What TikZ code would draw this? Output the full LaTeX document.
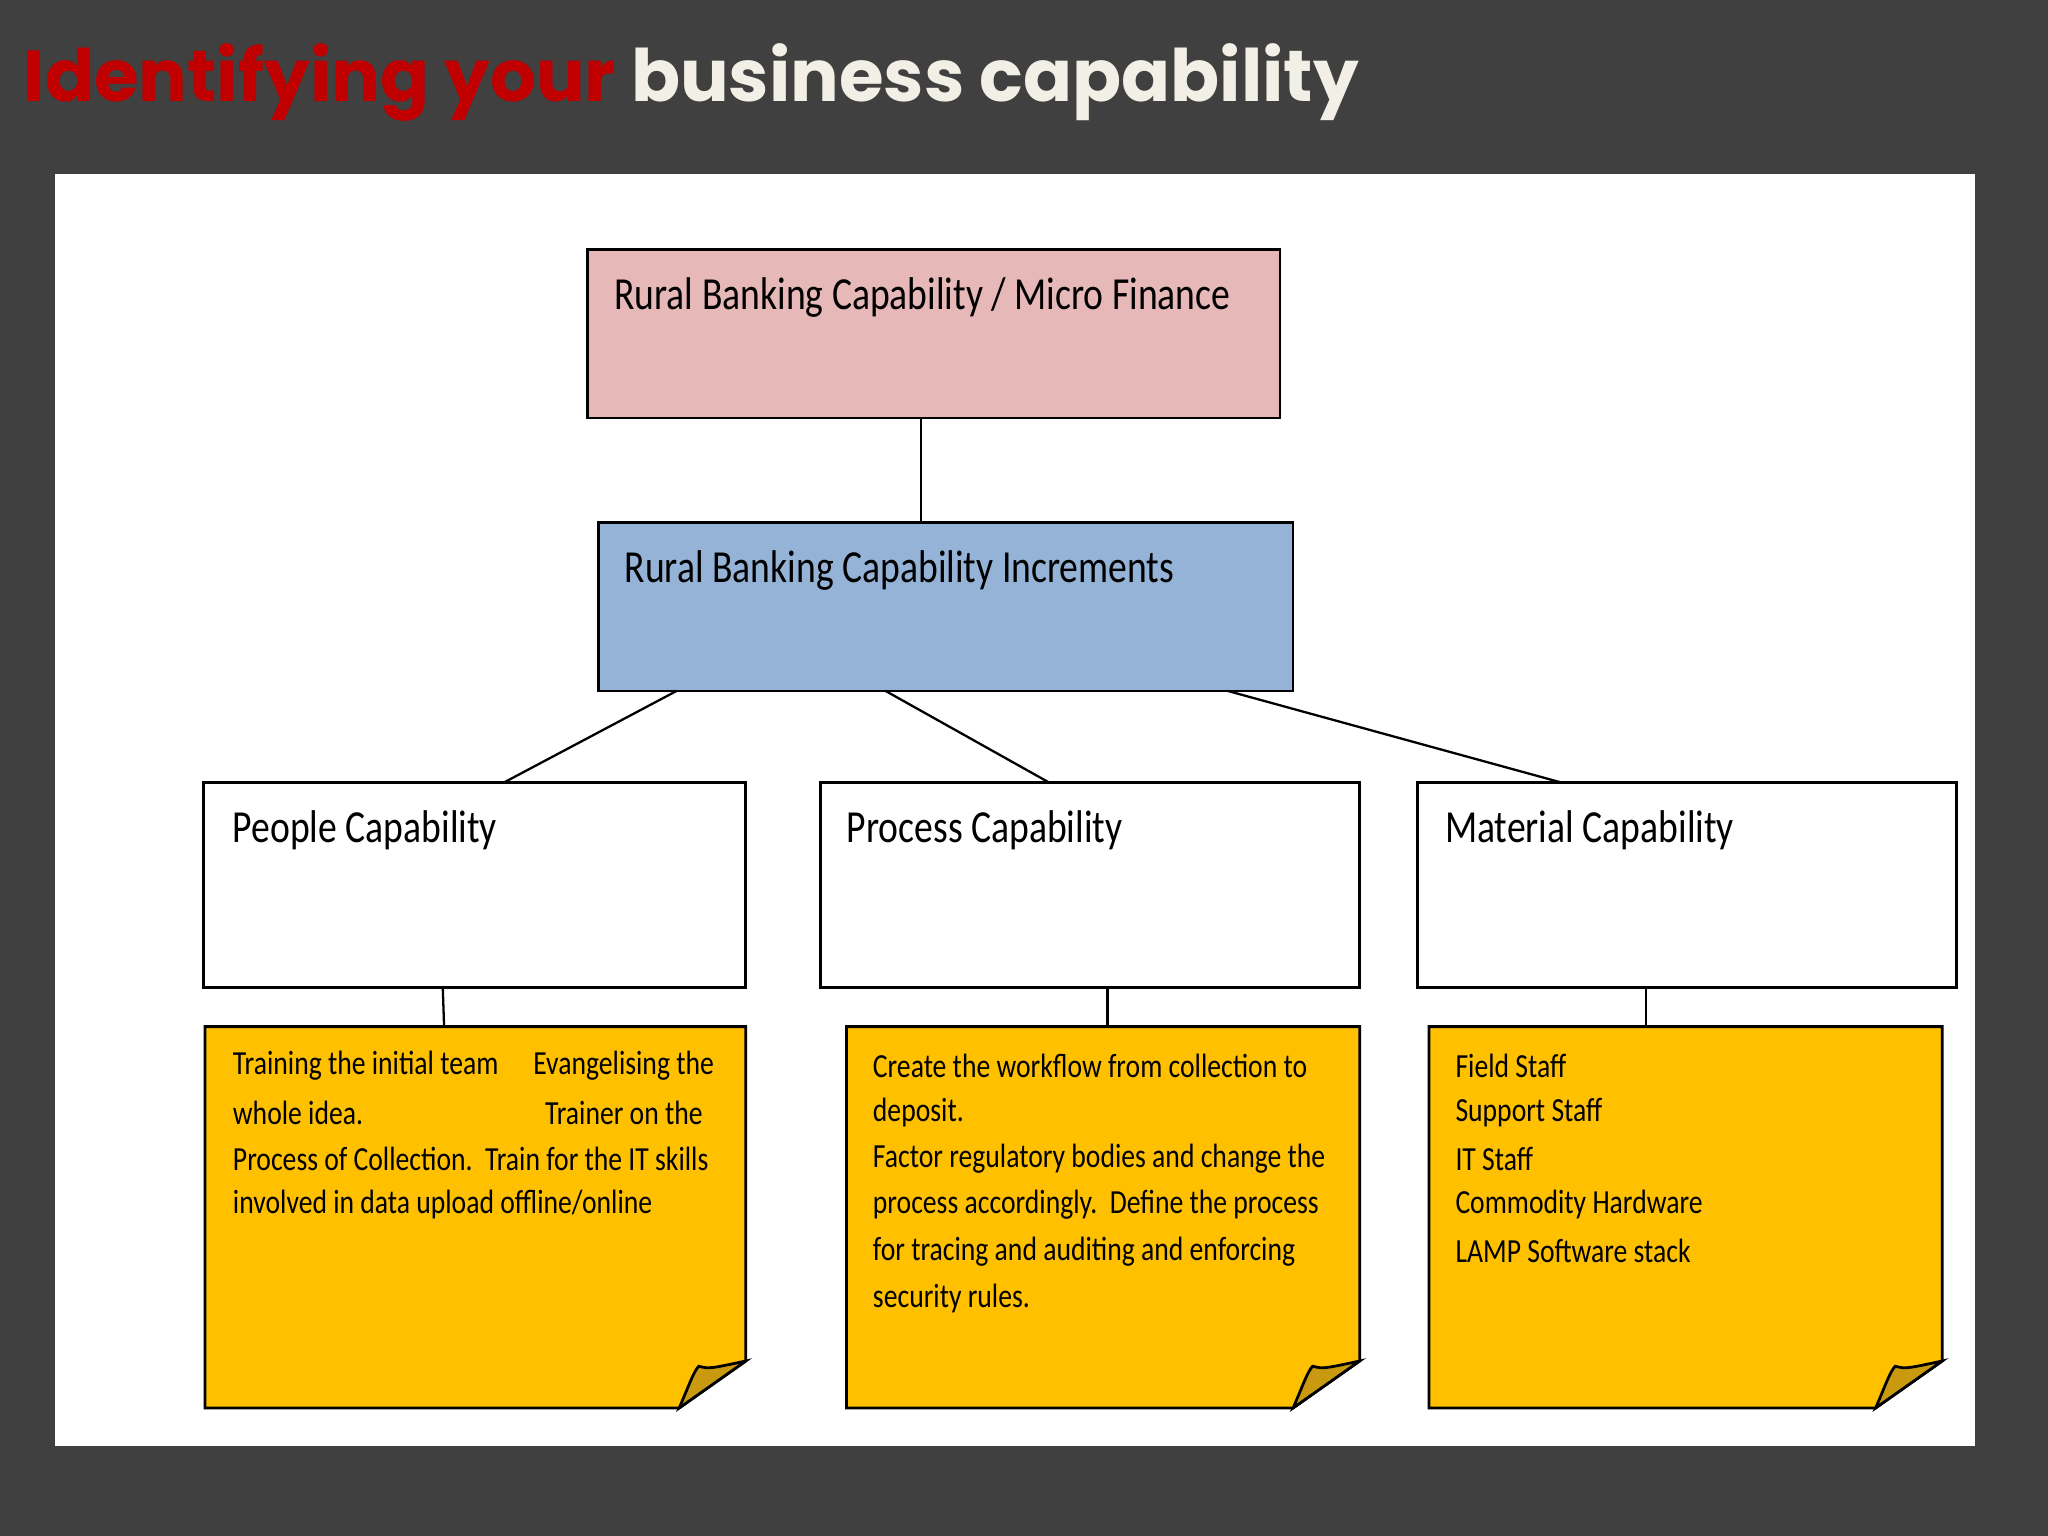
\documentclass[tikz,border=0pt]{standalone}
\usepackage{fontspec}
\setmainfont{Carlito}[FakeStretch=0.82]
\newfontfamily\titlefont{Poppins}
\definecolor{bg}{HTML}{404040}
\definecolor{pinkf}{HTML}{E6B8B7}
\definecolor{bluef}{HTML}{95B3D7}
\definecolor{yel}{HTML}{FFC000}
\definecolor{fold}{HTML}{C99A10}
\definecolor{tred}{HTML}{C00000}
\definecolor{tcream}{HTML}{F2F0E6}
\begin{document}
\begin{tikzpicture}[x=0.02cm,y=-0.02cm,
 box/.style={draw=black,line width=1.2pt},
 big/.style={anchor=north west,inner sep=0,font=\fontsize{20}{24}\selectfont},
 sm/.style={anchor=west,inner sep=0,font=\fontsize{14.7}{18}\selectfont},
 con/.style={draw=black,line width=1pt}]
\fill[bg] (0,0) rectangle (1568,1176);
\useasboundingbox (0,0) rectangle (1568,1176);
\fill[white] (42,133) rectangle (1512,1107);
\node[anchor=west,inner sep=0,font=\titlefont\bfseries\fontsize{31.5}{36}\selectfont] (title) at (18,63) {\textcolor{tred}{Identifying your} \textcolor{tcream}{business capability}};
% boxes
\draw[box,fill=pinkf] (450,191) rectangle (980,320);
\draw[box,fill=bluef] (458,400) rectangle (990,529);
\draw[box] (156,599) rectangle (571,756);
\draw[box] (628,599) rectangle (1041,756);
\draw[box] (1085,599) rectangle (1498,756);
\node[big] (t1) at (470,212) {Rural Banking Capability / Micro Finance};
\node[big] (t2) at (478,421) {Rural Banking Capability Increments};
\node[big] (p1) at (178,620) {People Capability};
\node[big] (p2) at (648,620) {Process Capability};
\node[big] (p3) at (1106,620) {Material Capability};
% notes
\foreach \a/\b in {157/571,648/1041,1094/1487}{
 \draw[box,fill=yel] (\a,786) -- (\b,786) -- (\b,1042) -- (\b-51,1078) -- (\a,1078) -- cycle;
 \draw[box,fill=fold] (\b,1042) -- (\b-51,1078) .. controls (\b-44,1062) and (\b-40,1050) .. (\b-36,1046) .. controls (\b-28,1048) .. cycle;
}
\coordinate (c1) at (705,320); \coordinate (c2) at (705,400);
\draw[con] (c1) -- (c2);
\coordinate (b1) at (518,529); \coordinate (e1) at (386,599);
\coordinate (b2) at (678,529); \coordinate (e2) at (803,599);
\coordinate (b3) at (940,529); \coordinate (e3) at (1195,599);
\draw[con] (b1) -- (e1); \draw[con] (b2) -- (e2); \draw[con] (b3) -- (e3);
\coordinate (d1) at (339,756); \coordinate (f1) at (340,786);
\coordinate (d2) at (848,756); \coordinate (f2) at (848,786);
\coordinate (d3) at (1260,756); \coordinate (f3) at (1260,786);
\draw[con] (d1) -- (f1); \draw[con] (d2) -- (f2); \draw[con] (d3) -- (f3);
% note texts
\node[sm] (a1) at (178,816) {Training the initial team};
\node[sm] (a2) at (408,816) {Evangelising the};
\node[sm] (a3) at (178,852) {whole idea.};
\node[sm] (a4) at (417,852) {Trainer on the};
\node[sm] (a5) at (178,887) {Process of Collection.\ \ Train for the IT skills};
\node[sm] (a6) at (178,922) {involved in data upload offline/online};
\node[sm] (m1) at (668,816) {Create the workflow from collection to};
\node[sm] (m2) at (668,852) {deposit.};
\node[sm] (m3) at (668,887) {Factor regulatory bodies and change the};
\node[sm] (m4) at (668,922) {process accordingly.\ \ Define the process};
\node[sm] (m5) at (668,958) {for tracing and auditing and enforcing};
\node[sm] (m6) at (668,994) {security rules.};
\node[sm] (r1) at (1114,816) {Field Staff};
\node[sm] (r2) at (1114,852) {Support Staff};
\node[sm] (r3) at (1114,887) {IT Staff};
\node[sm] (r4) at (1114,922) {Commodity Hardware};
\node[sm] (r5) at (1114,958) {LAMP Software stack};
\end{tikzpicture}
\end{document}
